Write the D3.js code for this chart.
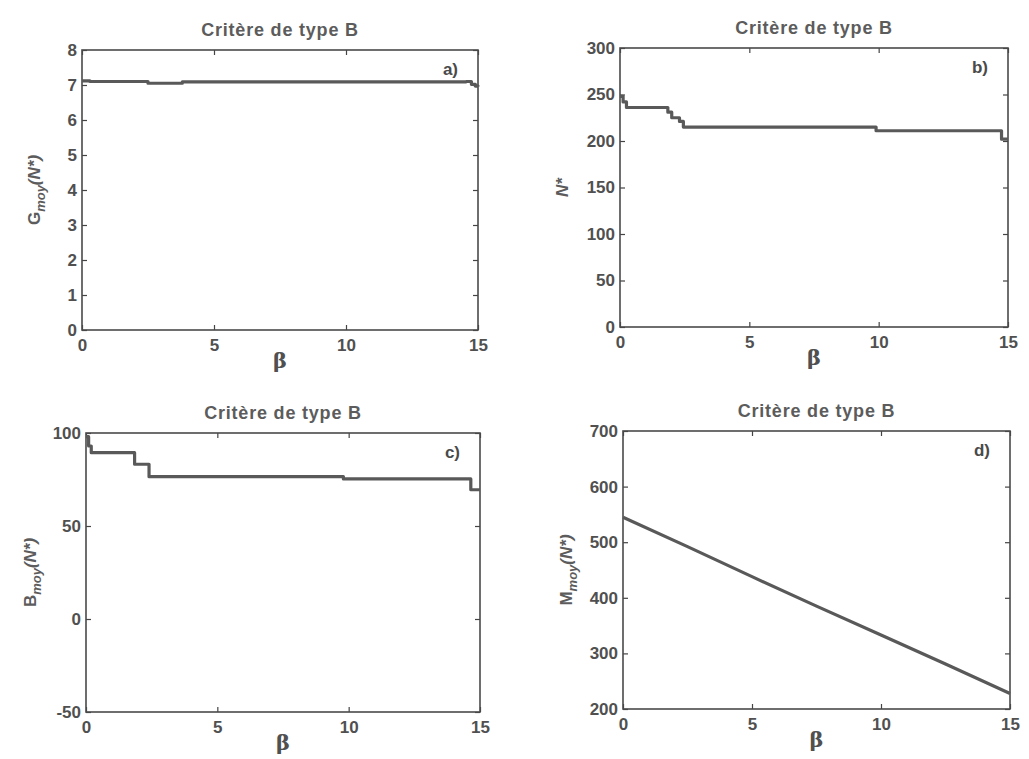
<!DOCTYPE html>
<html>
<head>
<meta charset="utf-8">
<script src="https://cdn.jsdelivr.net/npm/d3@7"></script>
<style>
  body { margin: 0; background: #fff; }
  svg { display: block; }
  .tick text { font-family: "Liberation Sans", Arial, sans-serif; font-weight: bold; font-size: 17px; fill: #505050; }
  .chart-title { font-family: "Liberation Sans", Arial, sans-serif; font-weight: bold; font-size: 18px; fill: #5c5c5c; letter-spacing: 0.8px; }
  .axis-label { font-family: "Liberation Sans", Arial, sans-serif; font-weight: bold; font-size: 17px; fill: #5c5c5c; }
  .beta { font-family: "DejaVu Serif", serif; font-weight: bold; font-size: 21px; fill: #505050; }
  .panel-tag { font-family: "Liberation Sans", Arial, sans-serif; font-weight: bold; font-size: 17px; fill: #4a4a4a; }
</style>
</head>
<body>
<div id="chart"></div>
<script>
// shared
const xDomain = [0, 15];
const xTicks = [0, 5, 10, 15];
const titleText = "Critère de type B";

// a) G_moy
const aBeta = [0, 0.3, 2.5, 3.8, 14.55, 14.75, 14.9, 15];
const aVal  = [7.12, 7.1, 7.05, 7.09, 7.1, 7.02, 6.97, 6.96];
const aTicks = [0, 1, 2, 3, 4, 5, 6, 7, 8];

// b) N*
const bBeta = [0, 0.12, 0.25, 1.85, 2.0, 2.3, 2.45, 9.9, 14.75, 15];
const bVal  = [248, 242, 236, 231, 225, 221, 215, 211, 202, 202];
const bTicks = [0, 50, 100, 150, 200, 250, 300];

// c) B_moy
const cBeta = [0, 0.1, 0.2, 1.85, 2.4, 9.8, 14.65, 15];
const cVal  = [98, 93, 89.4, 83.2, 76.5, 75.3, 69.5, 69.5];
const cTicks = [-50, 0, 50, 100];

// d) M_moy
const dBeta = [0, 2.5, 5, 7.5, 10, 12.5, 15];
const dVal  = [545, 492, 438, 385, 333, 281, 228];
const dTicks = [200, 300, 400, 500, 600, 700];

const W = 1029, H = 759;
const svg = d3.select("#chart").append("svg").attr("width", W).attr("height", H);

const panels = [
  { box: { x: 82, y: 50, w: 396, h: 280 }, beta: aBeta, val: aVal, domain: [0, 8], ticks: aTicks,
    tag: "a)", label: ["G", "moy", "(N*)"], labelX: 40 },
  { box: { x: 620, y: 48, w: 388, h: 279 }, beta: bBeta, val: bVal, domain: [0, 300], ticks: bTicks,
    tag: "b)", label: ["N*", "", ""], labelX: 568 },
  { box: { x: 86, y: 433, w: 394, h: 279 }, beta: cBeta, val: cVal, domain: [-50, 100], ticks: cTicks,
    tag: "c)", label: ["B", "moy", "(N*)"], labelX: 36 },
  { box: { x: 623, y: 431, w: 387, h: 278 }, beta: dBeta, val: dVal, domain: [200, 700], ticks: dTicks,
    tag: "d)", label: ["M", "moy", "(N*)"], labelX: 572, linear: true }
];

panels.forEach(p => {
  const b = p.box;
  const g = svg.append("g").attr("transform", `translate(${b.x},${b.y})`);
  const x = d3.scaleLinear().domain(xDomain).range([0, b.w]);
  const y = d3.scaleLinear().domain(p.domain).range([b.h, 0]);

  // axes (MATLAB style: inward ticks on all four sides)
  const axStyle = sel => {
    sel.select(".domain").remove();
    sel.selectAll(".tick line").attr("stroke", "#444").attr("stroke-width", 1.2);
  };
  g.append("g").attr("transform", `translate(0,${b.h})`)
    .call(d3.axisBottom(x).tickValues(xTicks).tickSize(-5).tickPadding(9).tickFormat(d => String(d)))
    .call(axStyle);
  g.append("g")
    .call(d3.axisTop(x).tickValues(xTicks).tickSize(-5).tickFormat(""))
    .call(axStyle);
  g.append("g")
    .call(d3.axisLeft(y).tickValues(p.ticks).tickSize(-5).tickPadding(5).tickFormat(d => String(d)))
    .call(axStyle);
  g.append("g").attr("transform", `translate(${b.w},0)`)
    .call(d3.axisRight(y).tickValues(p.ticks).tickSize(-5).tickFormat(""))
    .call(axStyle);

  g.append("rect")
    .attr("width", b.w).attr("height", b.h)
    .attr("fill", "none").attr("stroke", "#4a4a4a").attr("stroke-width", 1.6);

  const pts = p.beta.map((v, i) => [v, p.val[i]]);
  const line = d3.line()
    .x(d => x(d[0])).y(d => y(d[1]))
    .curve(p.linear ? d3.curveLinear : d3.curveStepAfter);
  g.append("path")
    .datum(pts)
    .attr("fill", "none")
    .attr("stroke", "#595959")
    .attr("stroke-width", 3.2)
    .attr("stroke-linejoin", "round")
    .attr("d", line);

  // title
  g.append("text").attr("class", "chart-title")
    .attr("x", b.w / 2).attr("y", -14)
    .attr("text-anchor", "middle").text(titleText);

  // panel tag
  g.append("text").attr("class", "panel-tag")
    .attr("x", b.w - 20).attr("y", 25)
    .attr("text-anchor", "end").text(p.tag);

  // x label
  g.append("text").attr("class", "beta")
    .attr("x", b.w / 2).attr("y", b.h + 38)
    .attr("text-anchor", "middle").text("β");

  // y label
  const yl = svg.append("text").attr("class", "axis-label")
    .attr("transform", `translate(${p.labelX},${b.y + b.h / 2}) rotate(-90)`)
    .attr("text-anchor", "middle");
  yl.append("tspan").attr("font-style", p.label[1] ? "normal" : "italic").text(p.label[0]);
  if (p.label[1]) {
    yl.append("tspan").attr("font-style", "italic").attr("font-size", 13).attr("dy", 5).text(p.label[1]);
    yl.append("tspan").attr("font-style", "italic").attr("dy", -5).text(p.label[2]);
  }
});
</script>
</body>
</html>
